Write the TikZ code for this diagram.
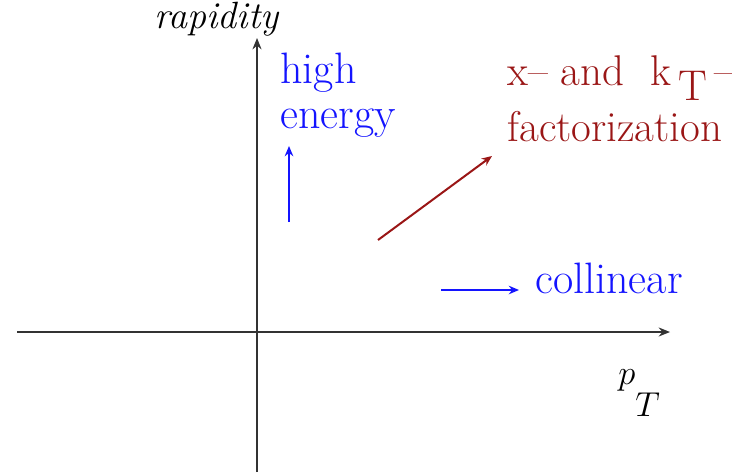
\documentclass[tikz,border=0pt]{standalone}
\usetikzlibrary{arrows.meta}
\definecolor{axisGrey}{HTML}{333333}
\definecolor{dirBlue}{HTML}{1414FF}
\definecolor{dirRed}{HTML}{9A1616}
\tikzset{
  axis/.style={draw=axisGrey, line width=0.7pt, -{Stealth[length=2mm, width=1.6mm]}},
  albl/.style={inner sep=0pt, text=black, font=\fontsize{19}{22}\selectfont},
  blu/.style={inner sep=0pt, text=dirBlue, font=\fontsize{22}{26}\selectfont},
  red/.style={inner sep=0pt, text=dirRed, font=\fontsize{21.5}{26}\selectfont},
  bflow/.style={draw=dirBlue, line width=1pt, -{Stealth[length=1.8mm, width=1.5mm]}},
  rflow/.style={draw=dirRed, line width=1pt, -{Stealth[length=1.8mm, width=1.5mm]}},
}
\begin{document}
\begin{tikzpicture}[x=0.5pt,y=-0.5pt]
  \useasboundingbox (0,0) rectangle (732,472);
  % axes
  \coordinate (xs) at (17,332);
  \coordinate (xe) at (670,332);
  \coordinate (ys) at (257,472);
  \coordinate (ye) at (257,38);
  \draw[axis] (xs) -- (xe);
  \draw[axis] (ys) -- (ye);
  \node[albl, anchor=base east] (rap) at (279,28) {\itshape rapidity};
  \node[albl, anchor=base west] (pt) at (618,384) {$p$\raisebox{-0.85em}{$T$}};

  % high energy
  \node[blu, anchor=base west] (high) at (280,83) {high};
  \node[blu, anchor=base west] (energy) at (280,128) {energy};
  \coordinate (he0) at (289,222);
  \coordinate (he1) at (289,146);
  \draw[bflow] (he0) -- (he1);

  % collinear
  \node[blu, anchor=base west] (coll) at (535,293) {collinear};
  \coordinate (co0) at (441,290);
  \coordinate (co1) at (519,290);
  \draw[bflow] (co0) -- (co1);

  % x- and kT-factorization
  \node[red, anchor=base west] (xk) at (507,85) {x-- and\ \ k\,\raisebox{-0.36em}{T}\,--};
  \node[red, anchor=base west] (fact) at (507,141) {factorization};
  \coordinate (kt0) at (378,240);
  \coordinate (kt1) at (492,156);
  \draw[rflow] (kt0) -- (kt1);
\end{tikzpicture}
\end{document}
